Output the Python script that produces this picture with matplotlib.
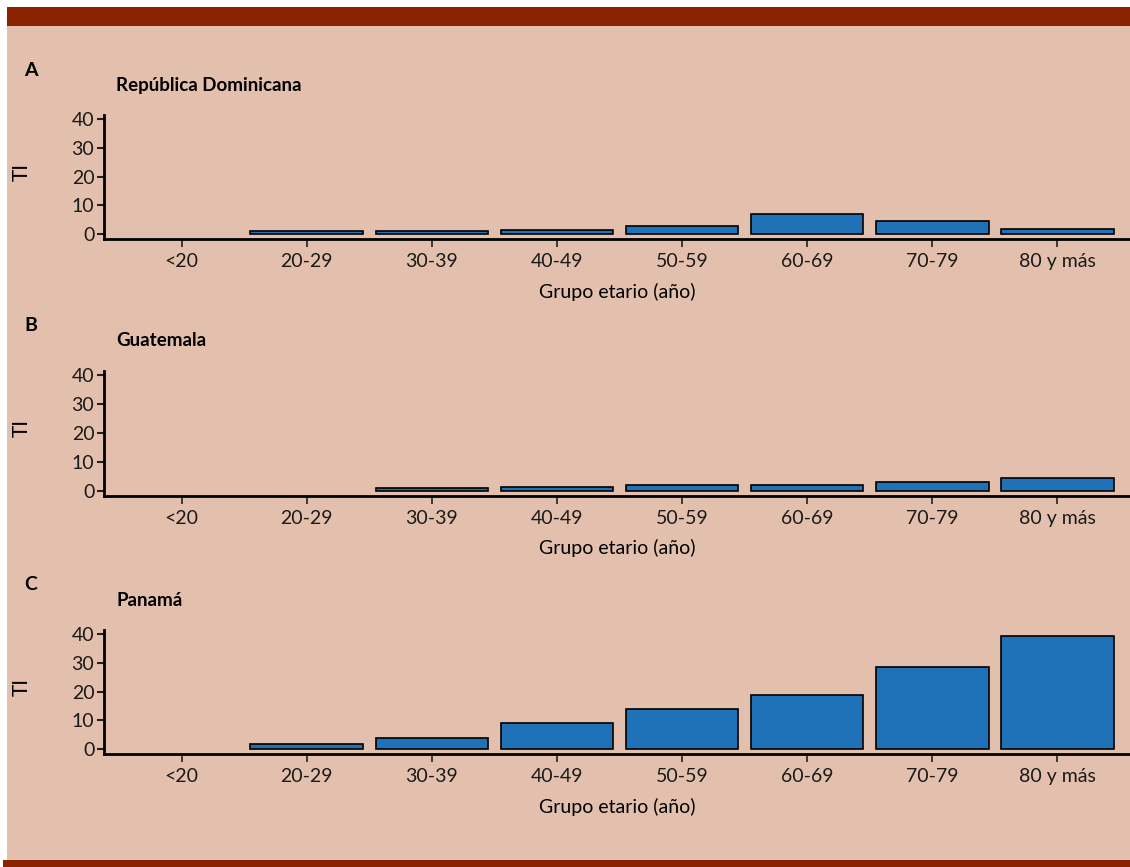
import numpy as np
import matplotlib as mpl
import matplotlib.pyplot as plt
from matplotlib.patches import Rectangle

mpl.rcParams['font.family'] = ['Lato', 'DejaVu Sans']

# datos (tasa de incidencia por grupo etario)
grupos = ['<20', '20-29', '30-39', '40-49', '50-59', '60-69', '70-79', '80 y más']
ti_dominicana = [0, 0.9, 1.1, 1.5, 2.8, 6.9, 4.4, 1.6]
ti_guatemala = [0, 0, 0.9, 1.1, 1.9, 1.8, 3.1, 4.5]
ti_panama = [0, 1.8, 3.8, 9.0, 13.9, 18.9, 28.5, 39.5]
yticks = [0, 10, 20, 30, 40]

paneles = [('A', 'República Dominicana', ti_dominicana),
           ('B', 'Guatemala', ti_guatemala),
           ('C', 'Panamá', ti_panama)]

W, H = 1130, 867
bg = '#E3C0AD'
rojo = '#8A2300'
azul = '#1F71B8'

fig = plt.figure(figsize=(W/100, H/100), dpi=100, facecolor='white')
# fondo beige y bandas rojas
fig.patches.append(Rectangle((7/W, 0), 1-7/W, 1-7/H, transform=fig.transFigure,
                             facecolor=bg, edgecolor='none', zorder=-10))
fig.patches.append(Rectangle((7/W, 1-26/H), 1-7/W, 19/H, transform=fig.transFigure,
                             facecolor=rojo, edgecolor='none', zorder=-9))
fig.patches.append(Rectangle((3/W, 0), 1-3/W, 7/H, transform=fig.transFigure,
                             facecolor=rojo, edgecolor='none', zorder=-9))

# posiciones de los ejes en pixeles (top, bottom)
ejes_px = [(115, 239.3), (370.7, 496), (630, 754.3)]
x = np.arange(len(grupos))

for (letra, titulo, valores), (top, bot) in zip(paneles, ejes_px):
    ax = fig.add_axes([104/W, 1-bot/H, 1-104/W, (bot-top)/H])
    ax.set_facecolor('none')
    lw = [1.2 if v > 0 else 0 for v in valores]
    ax.bar(x, valores, width=0.9, color=azul, edgecolor='black', linewidth=lw)
    ax.set_xlim(-0.62, 7.58)
    ax.set_ylim(-1.85, 41.5)
    ax.set_yticks(yticks)
    ax.set_xticks(x)
    ax.set_xticklabels(grupos)
    for s in ['top', 'right']:
        ax.spines[s].set_visible(False)
    for s in ['left', 'bottom']:
        ax.spines[s].set_linewidth(2)
    ax.tick_params(axis='both', labelsize=14, colors='#222222', labelcolor='#1a1a1a')
    ax.tick_params(axis='y', length=5, width=1.5, pad=2)
    ax.tick_params(axis='x', length=6, width=1.2, pad=4)
    ax.set_ylabel('TI', fontsize=15)
    ax.yaxis.set_label_coords(-72/1026, 0.54)
    ax.set_xlabel('Grupo etario (año)', fontsize=14, labelpad=9)
    # titulo y letra del panel
    fig.text(116/W, 1-(top-30)/H, titulo, fontsize=13.5, fontweight='bold',
             va='center', ha='left')
    fig.text(24/W, 1-(top-45)/H, letra, fontsize=14, fontweight='bold',
             va='center', ha='left')

fig.savefig('out.png', dpi=100, facecolor=fig.get_facecolor())
